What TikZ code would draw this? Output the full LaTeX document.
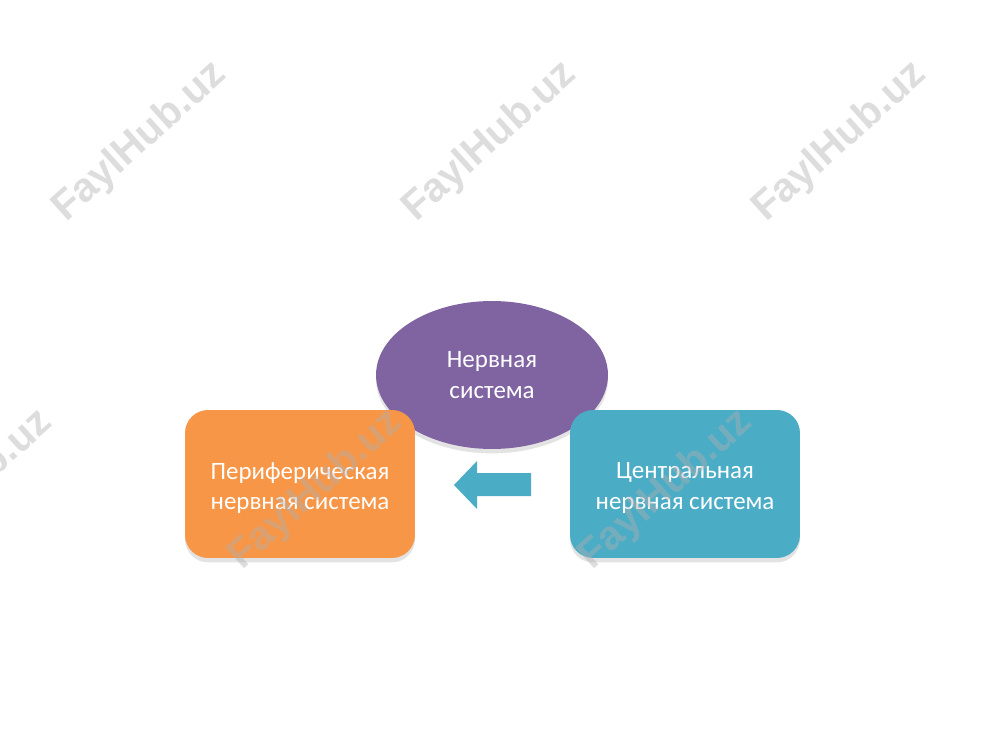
\documentclass[tikz,border=0pt]{standalone}
\usepackage{fontspec}
\setmainfont{Carlito}
\newfontfamily\wmfont{Liberation Sans}
\usetikzlibrary{shapes.geometric,shadows}
\definecolor{cpurple}{HTML}{8064A2}
\definecolor{corange}{HTML}{F79646}
\definecolor{cblue}{HTML}{4BACC6}
\definecolor{cwm}{HTML}{B0B0B0}
\tikzset{
  boxstyle/.style={rectangle, rounded corners=0.46cm, minimum width=4.6cm, minimum height=2.96cm,
    drop shadow={shadow xshift=0pt, shadow yshift=-2.5pt, opacity=0.22}},
  labeltext/.style={text=white, align=center, inner sep=0pt, font=\fontsize{14.2}{17.2}\selectfont},
  ovalstyle/.style={ellipse, minimum width=4.64cm, minimum height=2.96cm, inner sep=0pt,
    fill=cpurple, text=white, align=center, font=\fontsize{14.2}{17.2}\selectfont,
    drop shadow={shadow xshift=0pt, shadow yshift=-2.5pt, opacity=0.22}},
  wmark/.style={rotate=42, text=cwm, opacity=0.42, font=\wmfont\bfseries\fontsize{23.2}{27}\selectfont}
}
\begin{document}
\begin{tikzpicture}[x=0.02cm, y=-0.02cm]
  \useasboundingbox[fill=white] (0,0) rectangle (1000,750);
  \node[ovalstyle] (nerv) at (492,375) {Нервная\\система};
  \node[boxstyle, fill=corange] (peri) at (300,484) {};
  \node[labeltext] (peritext) at (300,488) {Периферическая\\нервная система};
  \node[boxstyle, fill=cblue] (cent) at (685,484) {};
  \node[labeltext] (centtext) at (685,488) {Центральная\\нервная система};
  \fill[cblue] (454,485) -- (477,461) -- (477,473) -- (531,473) -- (531,496) -- (477,496) -- (477,509) -- cycle;
  \node[wmark] (w1) at (140,142) {FaylHub.uz};
  \node[wmark] (w2) at (490,142) {FaylHub.uz};
  \node[wmark] (w3) at (840,142) {FaylHub.uz};
  \node[wmark] (w4) at (-34,490) {FaylHub.uz};
  \node[wmark] (w5) at (316,490) {FaylHub.uz};
  \node[wmark] (w6) at (666,490) {FaylHub.uz};
\end{tikzpicture}
\end{document}
